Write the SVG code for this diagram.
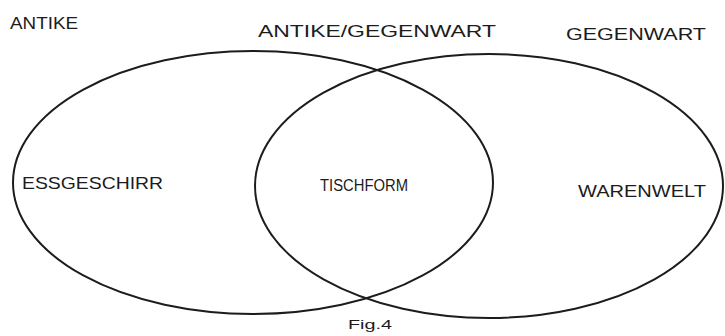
<svg xmlns="http://www.w3.org/2000/svg" width="725" height="336" viewBox="0 0 725 336">
<style>
.set{fill:none;stroke:#1c1c1c;stroke-width:2}
.lbl{font-family:"Liberation Sans",Arial,sans-serif;font-size:17px;fill:#1c1c1c}
.cap{font-family:"Liberation Sans",Arial,sans-serif;font-size:12px;fill:#1c1c1c}
</style>
<rect width="725" height="336" fill="#fff"/>
<g id="heading-antike"><text class="lbl" x="10" y="29" textLength="68" lengthAdjust="spacingAndGlyphs">ANTIKE</text></g>
<g id="heading-both"><text class="lbl" x="258" y="37" textLength="238" lengthAdjust="spacingAndGlyphs">ANTIKE/GEGENWART</text></g>
<g id="heading-gegenwart"><text class="lbl" x="566" y="40" textLength="140" lengthAdjust="spacingAndGlyphs">GEGENWART</text></g>
<g id="connectors"></g>
<g id="set-antike"><ellipse class="set" cx="253" cy="182.5" rx="240" ry="131.5"/></g>
<g id="set-gegenwart"><ellipse class="set" cx="489" cy="186" rx="234" ry="132"/></g>
<g id="node-essgeschirr"><text class="lbl" x="22" y="189" textLength="141" lengthAdjust="spacingAndGlyphs">ESSGESCHIRR</text></g>
<g id="node-tischform"><text class="lbl" x="320" y="191" textLength="88" lengthAdjust="spacingAndGlyphs" style="font-size:16px">TISCHFORM</text></g>
<g id="node-warenwelt"><text class="lbl" x="578" y="197" textLength="128" lengthAdjust="spacingAndGlyphs">WARENWELT</text></g>
<g id="caption"><text class="cap" x="348" y="329" textLength="44" lengthAdjust="spacingAndGlyphs">Fig.4</text></g>
</svg>
